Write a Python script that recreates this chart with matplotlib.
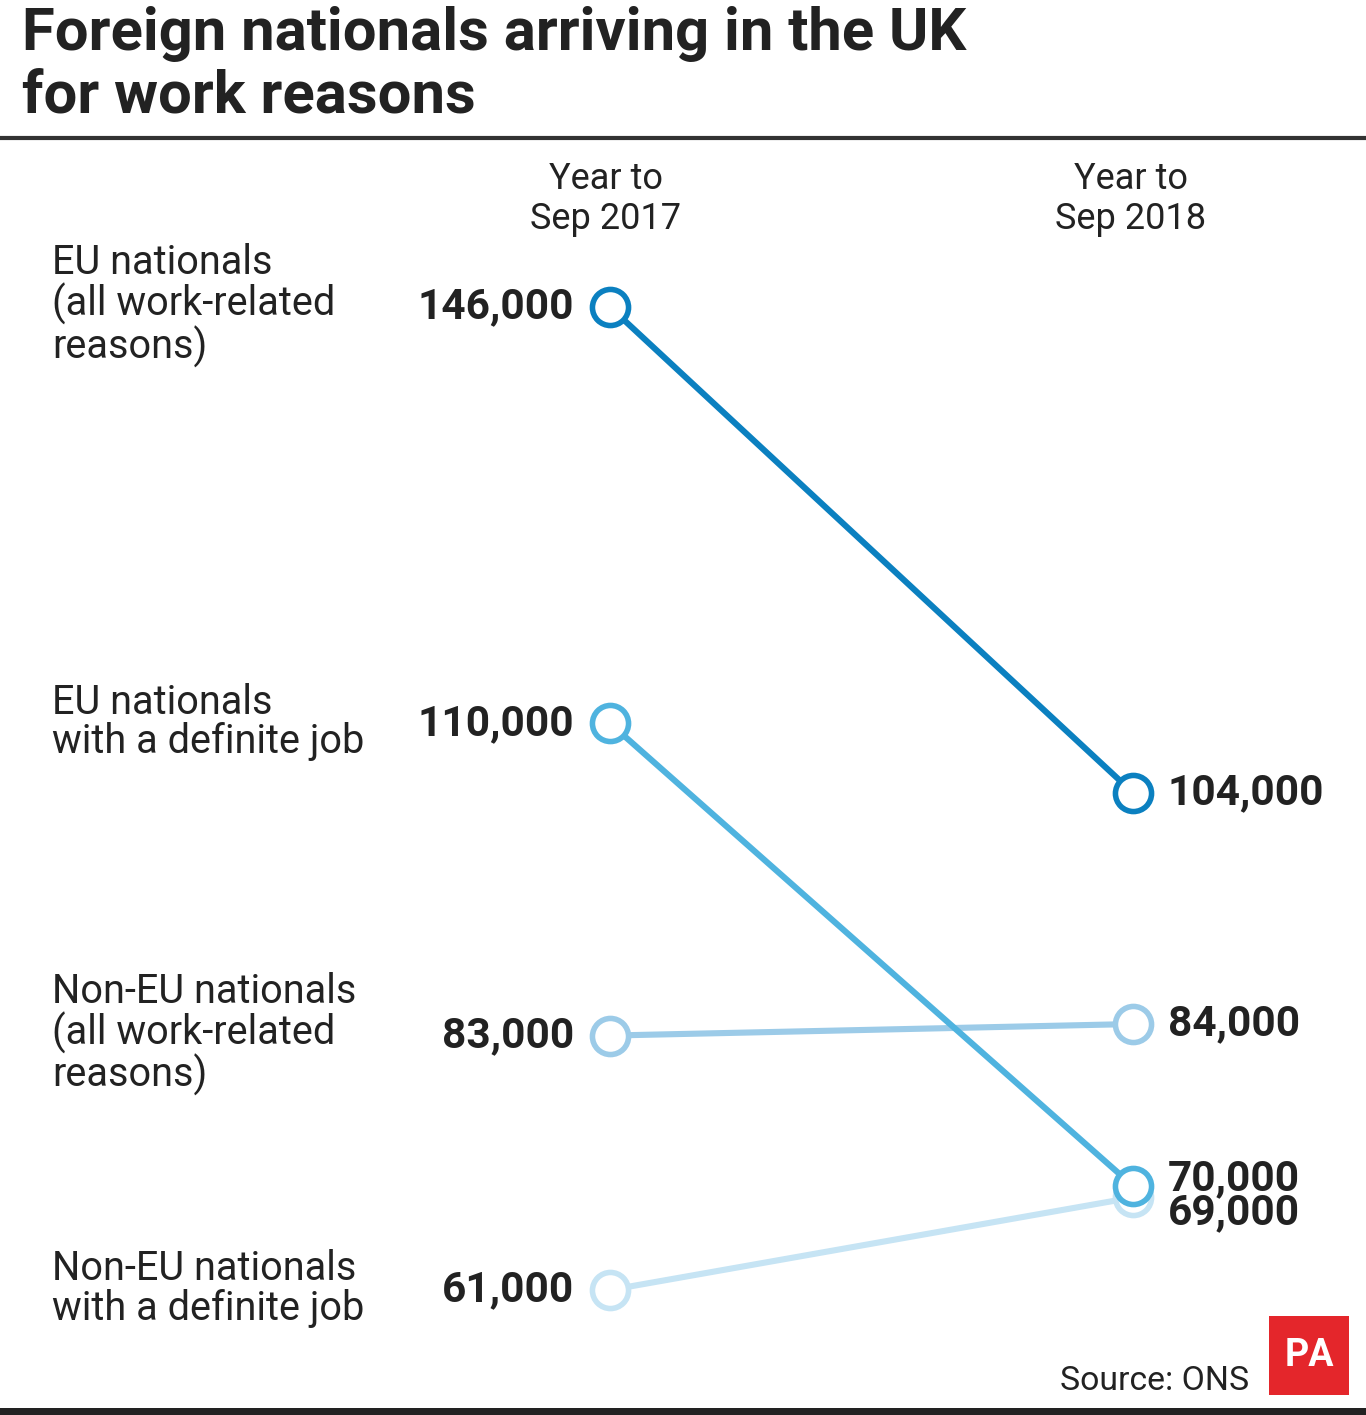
import matplotlib
matplotlib.use("Agg")
import matplotlib.pyplot as plt
from matplotlib.patches import Rectangle

plt.rcParams['font.family'] = ['Roboto', 'DejaVu Sans']

categories = ["EU nationals\n(all work-related\nreasons)",
              "EU nationals\nwith a definite job",
              "Non-EU nationals\n(all work-related\nreasons)",
              "Non-EU nationals\nwith a definite job"]
periods = ["Year to\nSep 2017", "Year to\nSep 2018"]
values_2017 = [146000, 110000, 83000, 61000]
values_2018 = [104000, 70000, 84000, 69000]
labels_2017 = ["146,000", "110,000", "83,000", "61,000"]
labels_2018 = ["104,000", "70,000", "84,000", "69,000"]
colors = ["#0b80c0", "#4fb3df", "#9ccbe8", "#c6e4f4"]
label_shift_2018 = [0, 600, 0, -1300]

W, H = 1366, 1415
fig = plt.figure(figsize=(W / 100, H / 100), dpi=100)

def fx(px):
    return px / W

def fy(py):
    return 1 - py / H

# main axes: x=0 -> 2017 (px 610), x=1 -> 2018 (px 1133); y 146000 at px 307, 61000 at px 1290
ax = fig.add_axes([fx(610), fy(1290), fx(1133) - fx(610), fy(307) - fy(1290)])
ax.set_xlim(0, 1)
ax.set_ylim(61000, 146000)
ax.axis("off")

for i in range(len(categories)):
    ax.plot([0, 1], [values_2017[i], values_2018[i]], color=colors[i], lw=4.4,
            marker="o", ms=26, mfc="white", mec=colors[i], mew=4.0,
            clip_on=False, zorder=3 + (len(categories) - i))

for i in range(len(categories)):
    ax.annotate(labels_2017[i], (0, values_2017[i]), xytext=(-26, 0), textcoords="offset points",
                ha="right", va="center", fontsize=30.5, fontweight="bold", color="#222222")
    ax.annotate(labels_2018[i], (1, values_2018[i] + label_shift_2018[i]), xytext=(25, 0),
                textcoords="offset points", ha="left", va="center", fontsize=30.5,
                fontweight="bold", color="#222222")

# category labels on left, aligned to 2017 values
for i, cat in enumerate(categories):
    ax.annotate(cat, (0, values_2017[i]), xycoords="data",
                xytext=(fx(52), 1), textcoords=("figure fraction", "offset points"),
                ha="left", va="center", fontsize=28.5, color="#222222",
                linespacing=1.02)

# column headers
for j, p in enumerate(periods):
    fig.text(fx([606, 1131][j]), fy(199), p, ha="center", va="center",
             fontsize=26, color="#222222", linespacing=1.15)

# title
fig.text(fx(22), fy(65), "Foreign nationals arriving in the UK\nfor work reasons",
         ha="left", va="center", fontsize=43, fontweight="bold", color="#222222",
         linespacing=1.15)

# rules
fig.add_artist(plt.Line2D([0, 1], [fy(138), fy(138)], color="#333333", lw=3))
fig.add_artist(Rectangle((0, 0), 1, fy(1408), transform=fig.transFigure,
                         color="#222222", lw=0))

# source and logo
fig.text(fx(1249), fy(1381), "Source: ONS", ha="right", va="center",
         fontsize=24.3, color="#222222")
fig.add_artist(Rectangle((fx(1269), fy(1395)), fx(80), fy(1316) - fy(1395),
                         transform=fig.transFigure, color="#e4262b", lw=0))
fig.text(fx(1309), fy(1356), "PA", ha="center", va="center", fontsize=27,
         fontweight="bold", color="white")

fig.savefig("out.png", dpi=100, facecolor="white")
